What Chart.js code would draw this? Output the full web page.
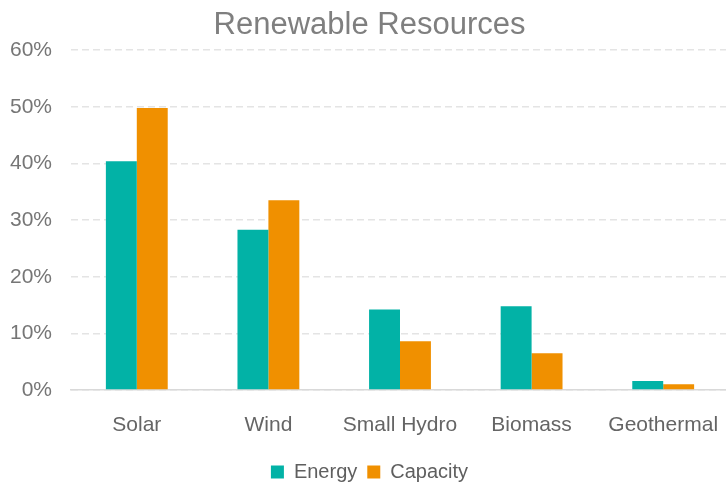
<!DOCTYPE html>
<html>
<head>
<meta charset="utf-8">
<script src="https://cdn.jsdelivr.net/npm/chart.js@4.4.1/dist/chart.umd.min.js"></script>
<style>
    html, body { margin: 0; padding: 0; overflow: hidden; background: #fff; }
    #wrap { width: 734px; height: 492px; position: relative; }
</style>
</head>
<body>
<div id="wrap"><canvas id="myChart"></canvas></div>
<script>
const categories = ['Solar', 'Wind', 'Small Hydro', 'Biomass', 'Geothermal'];
const energyValues = [40.4, 28.3, 14.2, 14.8, 1.6];
const capacityValues = [49.8, 33.5, 8.6, 6.5, 1.0];
const yTicks = [0, 10, 20, 30, 40, 50, 60];

document.addEventListener('DOMContentLoaded', function () {
    const font = "'Liberation Sans', Arial, sans-serif";
    const ctx = document.getElementById('myChart').getContext('2d');

    const chartData = {
        labels: categories,
        datasets: [
            {
                label: 'Energy',
                data: energyValues,
                backgroundColor: '#02B2A6',
                borderWidth: 0
            },
            {
                label: 'Capacity',
                data: capacityValues,
                backgroundColor: '#F09000',
                borderWidth: 0
            }
        ]
    };

    const config = {
        type: 'bar',
        data: chartData,
        options: {
            responsive: true,
            maintainAspectRatio: false,
            animation: false,
            layout: {
                padding: { left: 10, right: 5, top: 0, bottom: 0 }
            },
            datasets: {
                bar: { barPercentage: 1, categoryPercentage: 0.47 }
            },
            plugins: {
                title: {
                    display: true,
                    text: 'Renewable Resources',
                    color: '#7f7f7f',
                    font: { family: font, size: 31, weight: 'normal' },
                    padding: { top: 7, bottom: 6 }
                },
                legend: {
                    position: 'bottom',
                    labels: {
                        color: '#5f5f5f',
                        font: { family: font, size: 20 },
                        boxWidth: 13,
                        boxHeight: 13,
                        padding: 10
                    }
                },
                tooltip: { enabled: false }
            },
            scales: {
                x: {
                    grid: { display: false },
                    border: { display: true, color: '#d9d9d9', width: 1.5 },
                    ticks: {
                        color: '#656565',
                        font: { family: font, size: 21 },
                        padding: 15,
                        maxRotation: 0
                    },
                    afterFit: function (scale) {
                        scale.height = 62;
                    }
                },
                y: {
                    min: 0,
                    max: 60,
                    afterBuildTicks: function (scale) {
                        scale.ticks = yTicks.map(v => ({ value: v }));
                    },
                    afterFit: function (scale) {
                        scale.width = 61;
                    },
                    grid: {
                        color: '#e4e4e4',
                        lineWidth: 1.5,
                        drawTicks: false
                    },
                    border: { display: false, dash: [7, 4] },
                    ticks: {
                        color: '#767676',
                        font: { family: font, size: 21 },
                        padding: 19,
                        callback: v => v + '%'
                    }
                }
            }
        }
    };
    const myChart = new Chart(ctx, config);
});
</script>
</body>
</html>
